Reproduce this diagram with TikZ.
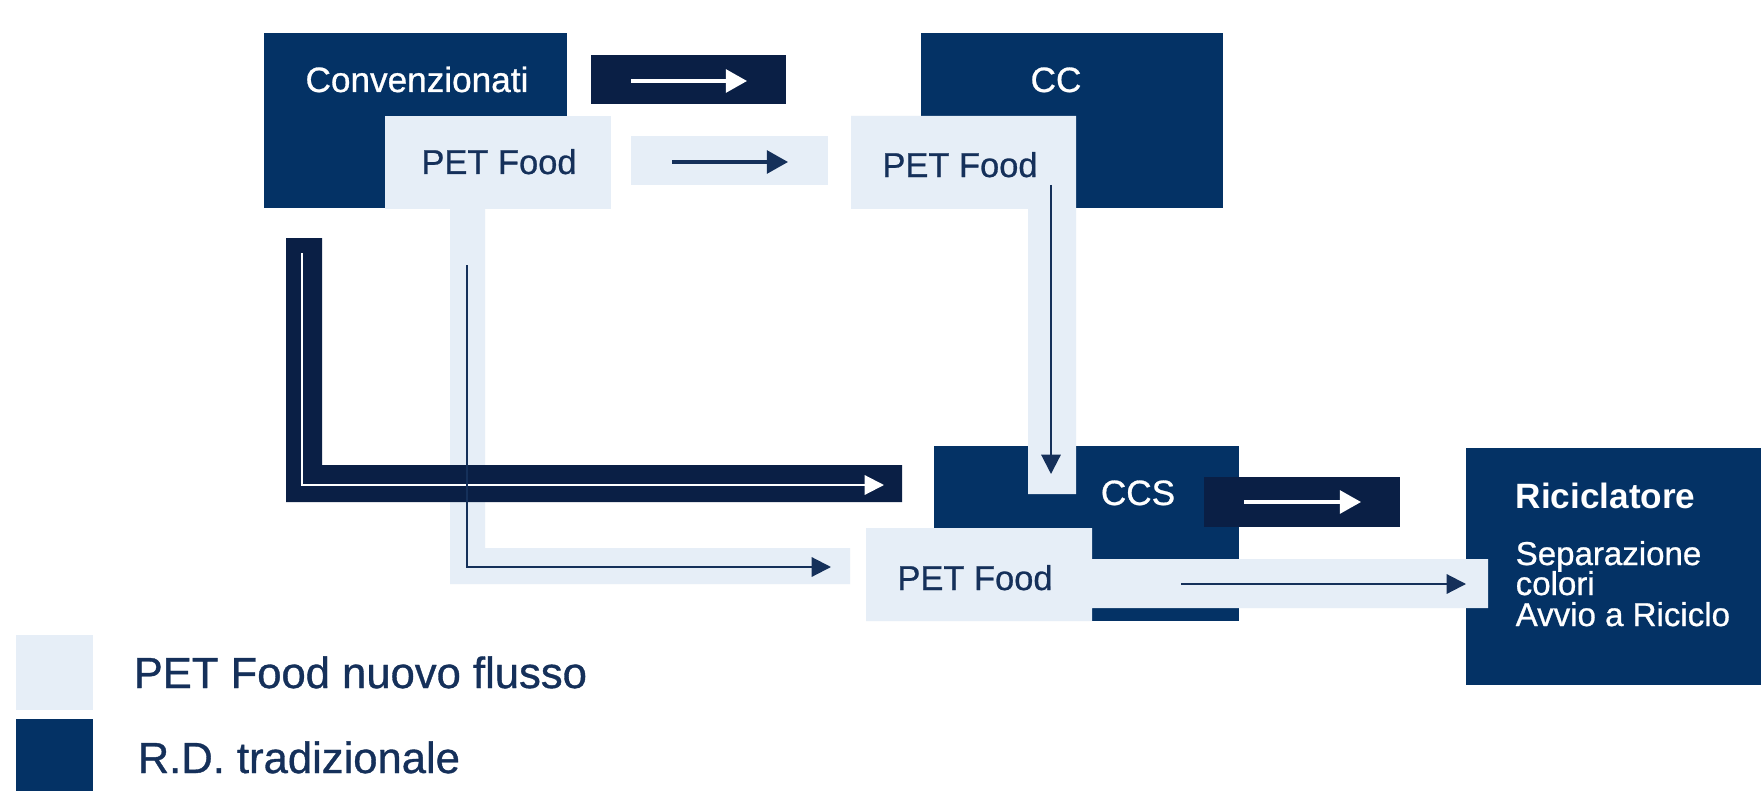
\documentclass[tikz,border=0pt]{standalone}
\usepackage{fontspec}
\setmainfont{Liberation Sans}
\newfontfamily\medsans[FakeBold=0.8]{Liberation Sans}
\usetikzlibrary{arrows.meta}

\definecolor{navy}{HTML}{043265}
\definecolor{deepnavy}{HTML}{0A1F45}
\definecolor{paleblue}{HTML}{E6EEF7}
\definecolor{inknavy}{HTML}{15305A}

\begin{document}
\begin{tikzpicture}[x=0.01cm,y=-0.01cm,
    whitetxt/.style={text=white,font=\medsans\fontsize{10}{12}\selectfont,anchor=base,inner sep=0pt},
    navytxt/.style={text=inknavy,font=\medsans\fontsize{9.8}{12}\selectfont,anchor=base,inner sep=0pt},
    bigarrow/.style={line width=0.9pt,-{Triangle[length=6pt,width=6.5pt]}},
    slimarrow/.style={line width=0.6pt,-{Triangle[length=5.5pt,width=5.5pt]}}]
  \useasboundingbox (0,0) rectangle (1761,791);
  \fill[white] (0,0) rectangle (1761,791);

% top row boxes
  \fill[navy]     (264,33) rectangle (567,208);
  \fill[navy]     (921,33) rectangle (1223,208);
  \fill[deepnavy] (591,55) rectangle (786,104);
  \fill[paleblue] (631,136) rectangle (828,185);
  \fill[paleblue] (385,116) rectangle (611,209);
  \fill[paleblue] (450,209) rectangle (485,584) (485,548) rectangle (850,584);

% traditional flow (L band)
  \fill[deepnavy] (286,238) rectangle (322,502) (322,465) rectangle (902,502);

% bottom row boxes
  \fill[navy]     (934,446) rectangle (1239,621);
  \fill[paleblue] (851,116) rectangle (1076,209) (1028,209) rectangle (1076,494);
  \fill[deepnavy] (1204,477) rectangle (1400,527);
  \fill[navy]     (1466,448) rectangle (1761,685);
  \fill[paleblue] (866,528) rectangle (1092,621) (1092,559) rectangle (1488,608);

% legend
  \fill[paleblue] (16,635) rectangle (93,710);
  \fill[navy]     (16,719) rectangle (93,791);

% labels
  \node[whitetxt] (conv) at (417,92)  {Convenzionati};
  \node[navytxt]  (petA) at (499,174) {PET Food};
  \node[whitetxt] (cc)   at (1056,92) {CC};
  \node[navytxt]  (petB) at (960,177) {PET Food};
  \node[whitetxt] (ccs)  at (1138,505) {CCS};
  \node[navytxt]  (petC) at (975,590) {PET Food};
  \node[whitetxt,anchor=base west,font=\bfseries\fontsize{10}{12}\selectfont]
        (ricic) at (1515,508) {Riciclatore};
  \node[whitetxt,anchor=base west,font=\medsans\fontsize{9.4}{11}\selectfont]
        (sep) at (1515,565) {Separazione};
  \node[whitetxt,anchor=base west,font=\medsans\fontsize{9.4}{11}\selectfont]
        (col) at (1515,595) {colori};
  \node[whitetxt,anchor=base west,font=\medsans\fontsize{9.4}{11}\selectfont]
        (avv) at (1515,626) {Avvio a Riciclo};
  \node[navytxt,anchor=base west,font=\medsans\fontsize{12.4}{14}\selectfont]
        (legA) at (133,688) {PET Food nuovo flusso};
  \node[navytxt,anchor=base west,font=\medsans\fontsize{12.4}{14}\selectfont]
        (legB) at (137,773) {R.D. tradizionale};

% arrow ends
  \coordinate (topdk-s) at (631,81);   \coordinate (topdk-e) at (747,81);
  \coordinate (toplt-s) at (672,162);  \coordinate (toplt-e) at (788,162);
  \coordinate (down-s)  at (1051,185); \coordinate (down-e)  at (1051,474);
  \coordinate (lband-s) at (302,253);  \coordinate (lband-e) at (884,485);
  \coordinate (lpet-s)  at (467,265);  \coordinate (lpet-e)  at (831,567);
  \coordinate (ccsdk-s) at (1244,502); \coordinate (ccsdk-e) at (1361,502);
  \coordinate (strip-s) at (1181,584); \coordinate (strip-e) at (1466,584);

% arrows
  \draw[bigarrow,white]     (topdk-s) -- (topdk-e);
  \draw[bigarrow,inknavy]   (toplt-s) -- (toplt-e);
  \draw[slimarrow,inknavy]  (down-s) -- (down-e);
  \draw[slimarrow,white]    (lband-s) |- (lband-e);
  \draw[slimarrow,inknavy]  (lpet-s) |- (lpet-e);
  \draw[bigarrow,white]     (ccsdk-s) -- (ccsdk-e);
  \draw[slimarrow,inknavy]  (strip-s) -- (strip-e);
\end{tikzpicture}
\end{document}
